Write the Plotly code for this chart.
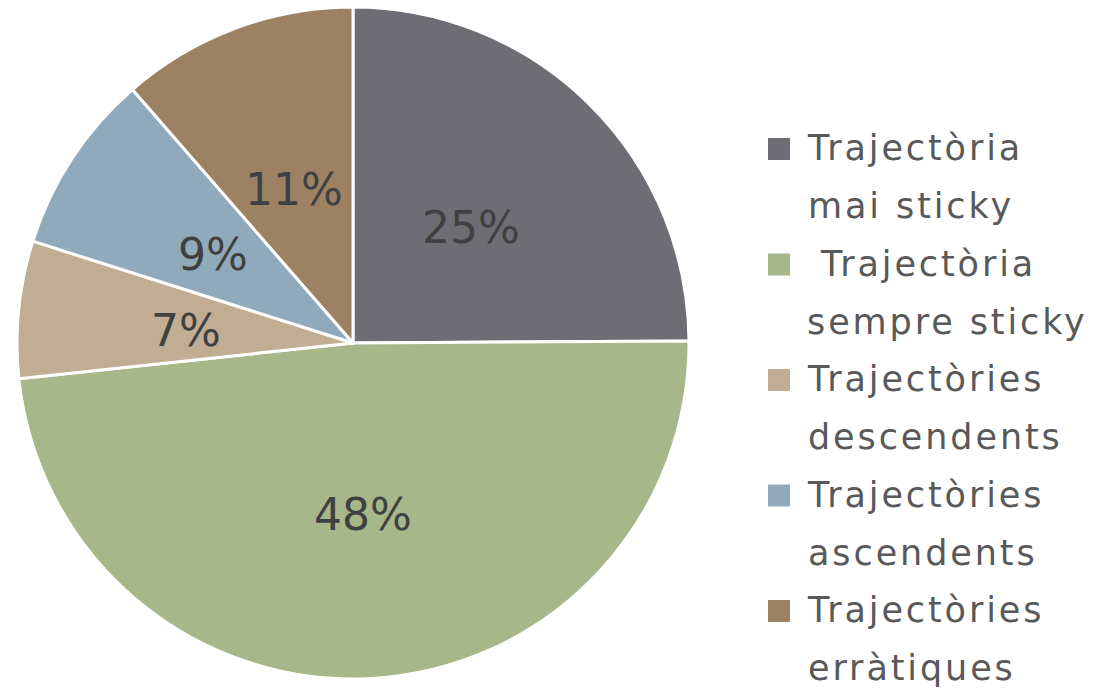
import plotly.graph_objects as go
import numpy as np

legend_names = ["Trajectòria<br>mai sticky", " Trajectòria<br>sempre sticky", "Trajectòries<br>descendents",
                "Trajectòries<br>ascendents", "Trajectòries<br>erràtiques"]
values = [24.9, 48.4, 6.6, 8.7, 11.4]
colors = ["#6E6D73", "#A7B789", "#C1AC94", "#91AABB", "#9C8263"]

W, H = 1099, 694
PIE_DOM = dict(x=[17/W, 689/W], y=[15/H, 687/H])
LABEL_R = 0.5
TEXT_COLOR = "#404040"
LEG_COLOR = "#595959"

fig = go.Figure()

fig.add_trace(go.Pie(
    labels=[n.replace("<br>", " ") for n in legend_names],
    values=values,
    sort=False,
    direction="clockwise",
    rotation=0,
    marker=dict(colors=colors, line=dict(color="white", width=3)),
    textinfo="none",
    domain=PIE_DOM,
    showlegend=False,
    hoverinfo="label+percent",
))

# percentage labels at each slice's mid-angle, on an axis overlay matching the pie
vals = np.array(values, dtype=float)
cum = np.cumsum(vals)
mid_theta = np.deg2rad((cum - vals / 2) / vals.sum() * 360)
for v, th in zip(vals, mid_theta):
    fig.add_annotation(
        x=LABEL_R * np.sin(th), y=LABEL_R * np.cos(th), xref="x3", yref="y3",
        text=f"{int(v / vals.sum() * 100 + 0.5)}%",
        showarrow=False, xanchor="center", yanchor="middle", yshift=-4,
        font=dict(family="DejaVu Sans", size=44, color=TEXT_COLOR),
    )

# custom legend
idx = list(range(len(values)))
fig.add_trace(go.Scatter(
    x=[779 / W] * len(values),
    y=idx,
    mode="markers",
    marker=dict(symbol="square", size=22, color=colors, line=dict(width=0)),
    xaxis="x2", yaxis="y2",
    showlegend=False,
    hoverinfo="skip",
))

def styled(t, size=35, ls=2.9):
    return "<br>".join(
        f'<span style="font-size:{size}px;letter-spacing:{ls}px">{p}</span>' for p in t.split("<br>"))

for i, name in enumerate(legend_names):
    fig.add_annotation(
        x=779 / W, y=i, xref="x2", yref="y2",
        text=styled(name),
        showarrow=False,
        xanchor="left", yanchor="top",
        xshift=26, yshift=23,
        align="left",
        font=dict(family="DejaVu Sans", size=44.4, color=LEG_COLOR),
    )

fig.update_layout(
    width=W, height=H,
    margin=dict(l=0, r=0, t=0, b=0),
    paper_bgcolor="white",
    plot_bgcolor="rgba(0,0,0,0)",
    showlegend=False,
    xaxis2=dict(domain=[0, 1], range=[0, 1], visible=False, fixedrange=True),
    yaxis2=dict(domain=[0, 1], range=[(H - 149) / 115.5, -149 / 115.5], visible=False, fixedrange=True),
    xaxis3=dict(domain=PIE_DOM["x"], range=[-1, 1], visible=False, fixedrange=True, anchor="y3"),
    yaxis3=dict(domain=PIE_DOM["y"], range=[-1, 1], visible=False, fixedrange=True, anchor="x3"),
)

fig.write_html("out.html", post_script="document.body.style.margin='0';",
               config={"displayModeBar": False})
